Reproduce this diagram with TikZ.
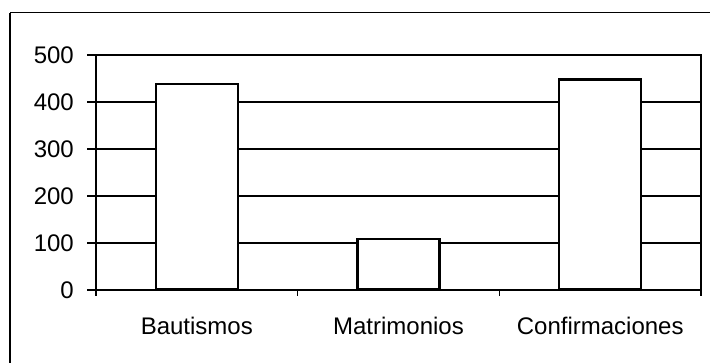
\documentclass[tikz,border=0pt]{standalone}
\usepackage{fontspec}
\setmainfont{Liberation Sans}
\usetikzlibrary{positioning,calc}
\tikzset{%
    % Specifications for style of nodes:
    plain/.style = {},
    bar/.style = {
        plain,
        rectangle, draw=black, line width=2.4pt,
        fill=white, minimum width=82pt, inner sep=0pt,
        anchor=south
    },
    axislabel/.style = {
        plain, font=\fontsize{24}{28}\selectfont, inner sep=0pt
    },
    grid-line/.style = {line width=1.3pt},
    frame-line/.style = {line width=1.8pt}
}

\begin{document}
\begin{tikzpicture}[x=1pt, y=1pt]
    \useasboundingbox (0,0) rectangle (710,363);
    % outer frame
    \draw[frame-line] (10,0) -- (10,350);
    \draw[line width=1pt] (10,350) -- (710,350);
    % grid and axes
    \foreach \v in {100,200,300,400} {
        \draw[grid-line] (87,73+\v*0.47) -- (701,73+\v*0.47);
    }
    \draw[frame-line] (87,308) -- (701,308) -- (701,73);
    \draw[frame-line] (87,73) -- (701,73);
    \draw[frame-line] (96,67) -- (96,308);
    \foreach \x in {297.7,499.3,701} {
        \draw[grid-line] (\x,67) -- (\x,73);
    }
    \foreach \v in {0,100,200,300,400,500} {
        \node[axislabel, anchor=east] (Y\v) at (74,73+\v*0.47) {\v};
    }
    % bars
    \node[bar, minimum height=436*0.47pt] (B1) at (196.8,73) {};
    \node[bar, minimum height=106*0.47pt] (B2) at (398.5,73) {};
    \node[bar, minimum height=445*0.47pt] (B3) at (600.2,73) {};
    % categories
    \node[axislabel] (C1) at (196.8,37) {Bautismos};
    \node[axislabel] (C2) at (398.5,37) {Matrimonios};
    \node[axislabel] (C3) at (600.2,37) {Confirmaciones};
\end{tikzpicture}
\end{document}
